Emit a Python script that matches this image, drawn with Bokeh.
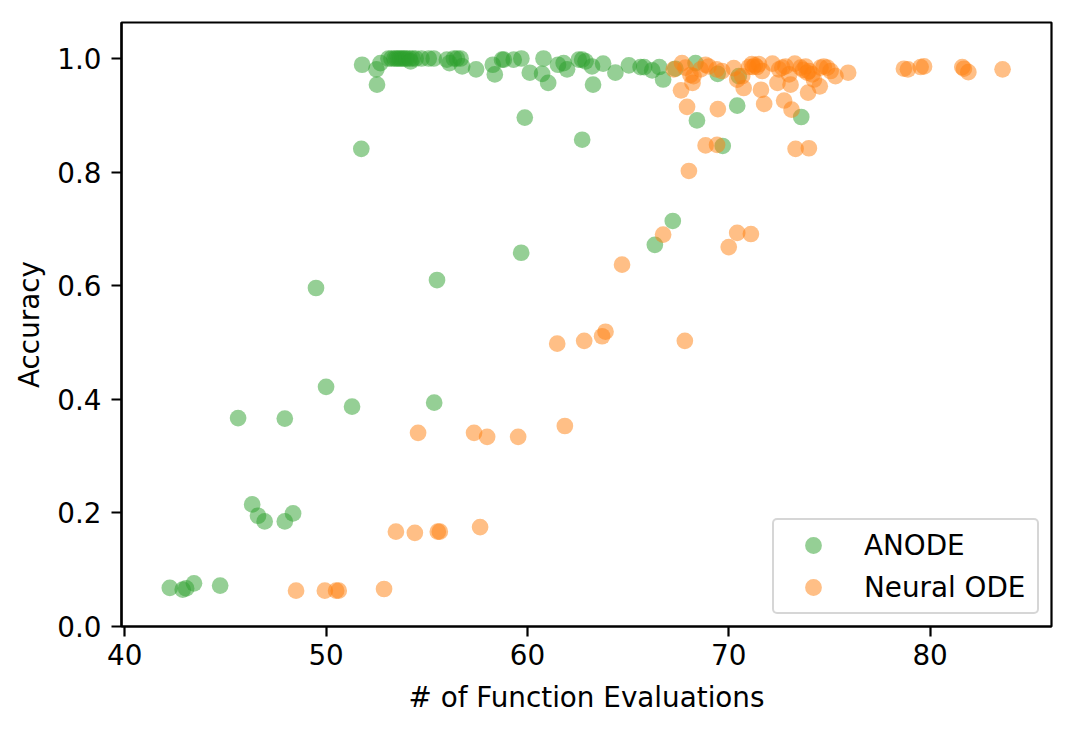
from bokeh.plotting import figure
from bokeh.models import (ColumnDataSource, Range1d, FixedTicker, NumeralTickFormatter,
                          Legend, LegendItem)
from bokeh.embed import file_html
from bokeh.resources import INLINE

# ---------------- data ----------------
anode_nfe = [
    42.24, 42.88, 43.05, 43.44, 44.74,
    46.33, 46.62, 46.95, 47.95, 48.36,
    45.63, 47.95, 50.0, 51.29, 55.37,
    49.5, 55.51, 59.69, 66.33, 67.22,
    51.75, 59.87, 62.72, 68.42, 69.7, 70.42, 73.6,
    51.79, 52.5, 52.53, 52.7,
    53.1, 53.25, 53.4, 53.5, 53.6, 53.7, 53.8, 53.9, 54.0, 54.15, 54.3, 54.45,
    54.2, 54.74, 55.1, 55.35, 56.0, 56.13, 56.35, 56.5, 56.68, 56.76,
    57.45, 58.28, 58.38, 58.74, 58.83, 59.32, 59.7, 60.12, 60.73, 60.8,
    61.03, 61.52, 61.8, 61.97, 62.55, 62.72, 62.89, 63.21, 63.26, 63.76,
    64.37, 65.04, 65.62, 65.8, 66.2, 66.55, 66.74, 67.35, 68.35, 69.45, 70.5,
]
anode_acc = [
    0.068, 0.065, 0.067, 0.076, 0.072,
    0.215, 0.195, 0.185, 0.185, 0.199,
    0.367, 0.366, 0.422, 0.387, 0.394,
    0.596, 0.610, 0.658, 0.672, 0.714,
    0.841, 0.896, 0.857, 0.891, 0.846, 0.917, 0.897,
    0.989, 0.981, 0.954, 0.992,
    1.0, 1.0, 1.0, 1.0, 1.0, 1.0, 1.0, 1.0, 1.0, 1.0, 1.0, 1.0,
    0.995, 1.0, 1.0, 1.0, 0.998, 0.992, 1.0, 1.0, 1.0, 0.986,
    0.981, 0.989, 0.972, 0.998, 0.998, 0.998, 1.0, 0.975, 0.973, 1.0,
    0.957, 0.989, 0.992, 0.981, 0.998, 0.998, 0.995, 0.986, 0.954, 0.991,
    0.975, 0.988, 0.985, 0.985, 0.979, 0.985, 0.963, 0.982, 0.992, 0.973, 0.969,
]

node_nfe = [
    48.51, 49.94, 50.5, 50.63, 52.88,
    53.47, 54.41, 55.55, 55.65, 57.65,
    54.57, 57.35, 58.0, 59.54, 61.86,
    61.48, 62.82, 63.71, 63.88, 67.82,
    64.7, 66.74, 70.0, 70.42, 71.1,
    68.02, 68.85, 69.42, 73.32, 73.98,
    67.93, 69.46, 71.76, 72.75, 73.12,
    67.63, 71.6, 73.94, 74.52, 70.74, 68.2,
    67.27, 67.68, 67.85, 68.1, 68.25, 68.6, 68.85, 69.0, 69.4, 69.67,
    70.25, 70.42, 70.67, 71.0, 71.15, 71.2, 71.3, 71.4, 71.5, 71.66,
    72.17, 72.42, 72.5, 72.66, 72.82, 73.0, 73.07, 73.28, 73.57, 73.7,
    73.82, 73.9, 73.98, 74.15, 74.23, 74.56, 74.72, 74.89, 75.06, 75.3, 75.93,
    78.7, 78.9, 79.53, 79.7, 81.6, 81.68, 81.9, 83.6,
]
node_acc = [
    0.063, 0.063, 0.063, 0.063, 0.066,
    0.167, 0.165, 0.167, 0.167, 0.175,
    0.341, 0.341, 0.334, 0.334, 0.353,
    0.498, 0.503, 0.511, 0.519, 0.503,
    0.637, 0.690, 0.668, 0.693, 0.691,
    0.802, 0.847, 0.848, 0.841, 0.842,
    0.915, 0.911, 0.920, 0.926, 0.910,
    0.944, 0.945, 0.940, 0.951, 0.948, 0.957,
    0.981, 0.992, 0.984, 0.971, 0.969, 0.981, 0.989, 0.986, 0.981, 0.978,
    0.983, 0.963, 0.969, 0.985, 0.990, 0.985, 0.988, 0.985, 0.990, 0.978,
    0.991, 0.957, 0.981, 0.984, 0.986, 0.972, 0.954, 0.991, 0.984, 0.980,
    0.986, 0.975, 0.978, 0.972, 0.963, 0.984, 0.986, 0.984, 0.978, 0.969, 0.975,
    0.982, 0.981, 0.985, 0.986, 0.985, 0.982, 0.976, 0.981,
]

x_ticks = [40, 50, 60, 70, 80]
y_ticks = [0.0, 0.2, 0.4, 0.6, 0.8, 1.0]
series_names = ["ANODE", "Neural ODE"]
x_label = "# of Function Evaluations"
y_label = "Accuracy"

# ---------------- styling ----------------
FONT = "DejaVu Sans"
FS = "27.8px"
GREEN = "#2ca02c"
ORANGE = "#ff7f0e"
LW = 2.2

p = figure(
    frame_width=930, frame_height=604,
    min_border_left=121, min_border_right=9,
    min_border_top=22, min_border_bottom=92,
    x_range=Range1d(39.84, 86.03), y_range=Range1d(0.0, 1.0634),
    output_backend="svg", toolbar_location=None,
)
p.background_fill_color = "white"
p.border_fill_color = "white"
p.xgrid.visible = False
p.ygrid.visible = False
p.outline_line_color = "black"
p.outline_line_width = LW
p.outline_line_alpha = 1.0

src_a = ColumnDataSource(dict(x=anode_nfe, y=anode_acc))
src_n = ColumnDataSource(dict(x=node_nfe, y=node_acc))
r_a = p.scatter("x", "y", source=src_a, size=16.7, fill_color=GREEN,
                fill_alpha=0.5, line_color=None)
r_n = p.scatter("x", "y", source=src_n, size=16.7, fill_color=ORANGE,
                fill_alpha=0.5, line_color=None)

for ax in (p.xaxis[0], p.yaxis[0]):
    ax.axis_line_width = LW
    ax.axis_line_color = "black"
    ax.major_tick_line_width = LW
    ax.major_tick_line_color = "black"
    ax.major_tick_out = 10
    ax.major_tick_in = 0
    ax.minor_tick_line_color = None
    ax.major_label_text_font = FONT
    ax.major_label_text_font_size = FS
    ax.major_label_text_color = "black"
    ax.axis_label_text_font = FONT
    ax.axis_label_text_font_size = FS
    ax.axis_label_text_font_style = "normal"
    ax.axis_label_text_color = "black"

p.xaxis[0].ticker = FixedTicker(ticks=x_ticks)
p.yaxis[0].ticker = FixedTicker(ticks=y_ticks)
p.yaxis[0].formatter = NumeralTickFormatter(format="0.0")
p.xaxis[0].axis_label = x_label
p.yaxis[0].axis_label = y_label
p.xaxis[0].major_label_standoff = 7
p.yaxis[0].major_label_standoff = 10
p.xaxis[0].axis_label_standoff = 13
p.yaxis[0].axis_label_standoff = 8

legend = Legend(items=[LegendItem(label=series_names[0], renderers=[r_a]),
                       LegendItem(label=series_names[1], renderers=[r_n])])
legend.location = "bottom_right"
legend.margin = 12
legend.padding = 4
legend.spacing = 0
legend.glyph_width = 70
legend.glyph_height = 42
legend.label_height = 42
legend.label_width = 169
legend.label_standoff = 16
legend.label_text_font = FONT
legend.label_text_font_size = FS
legend.label_text_color = "black"
legend.border_line_color = "#cccccc"
legend.border_line_width = LW
legend.border_line_alpha = 0.8
legend.background_fill_color = "white"
legend.background_fill_alpha = 0.8
try:
    legend.border_radius = 5
except Exception:
    pass
p.add_layout(legend, "center")

open("out.html", "w").write(file_html(p, INLINE))
